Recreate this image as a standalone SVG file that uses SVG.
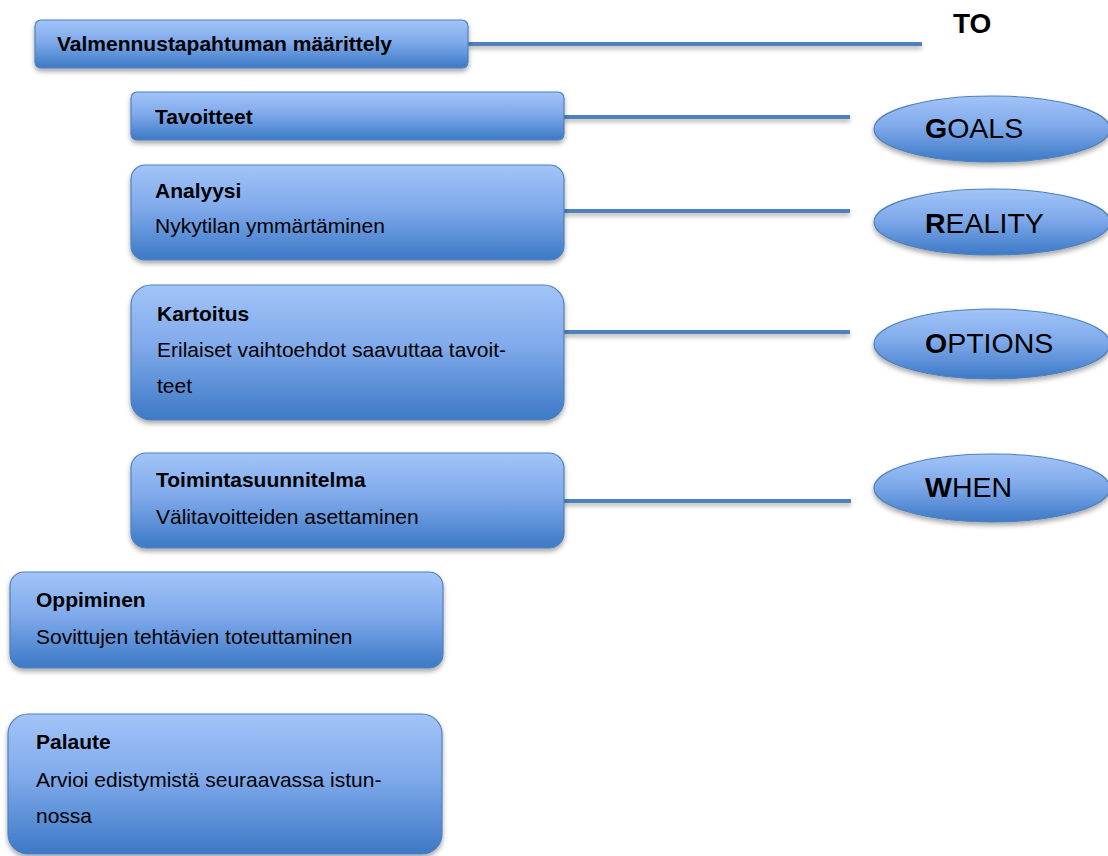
<svg xmlns="http://www.w3.org/2000/svg" width="1108" height="856" viewBox="0 0 1108 856">
  <defs>
    <linearGradient id="fillBlue" x1="0" y1="0" x2="0" y2="1">
      <stop offset="0" stop-color="#a2c4f8"/>
      <stop offset="0.45" stop-color="#80aaeb"/>
      <stop offset="1" stop-color="#3c79c6"/>
    </linearGradient>
    <filter id="shadow" x="-10%" y="-30%" width="120%" height="170%">
      <feDropShadow dx="0" dy="3" stdDeviation="2.5" flood-color="#000" flood-opacity="0.35"/>
    </filter>
    <!-- user-space region so the flat horizontal connectors keep a filter area -->
    <filter id="lineShadow" filterUnits="userSpaceOnUse" x="0" y="0" width="1108" height="856">
      <feDropShadow dx="0" dy="3" stdDeviation="2" flood-color="#000" flood-opacity="0.3"/>
    </filter>
  </defs>
  <style>
    .box { fill: url(#fillBlue); stroke: #4f81bd; stroke-width: 1.2; filter: url(#shadow); }
    .link { stroke: #4f81bd; stroke-width: 4; fill: none; filter: url(#lineShadow); }
    text { font-family: "Liberation Sans", Arial, sans-serif; fill: #000; }
    .title { font-weight: bold; font-size: 21px; }
    .body { font-size: 21px; }
    .big { font-size: 28.5px; }
    .big tspan.initial { font-weight: bold; }
  </style>
  <rect width="1108" height="856" fill="#ffffff"/>

  <!-- connectors -->
  <g id="connectors">
    <line class="link" x1="468" y1="44" x2="922" y2="44"/>
    <line class="link" x1="564" y1="117" x2="850" y2="117"/>
    <line class="link" x1="564" y1="211" x2="850" y2="211"/>
    <line class="link" x1="564" y1="332" x2="850" y2="332"/>
    <line class="link" x1="564" y1="501" x2="851" y2="501"/>
  </g>

  <g id="node-maarittely">
    <rect class="box" x="35" y="20" width="433" height="48" rx="6"/>
    <text class="title" x="57" y="51">Valmennustapahtuman määrittely</text>
  </g>

  <g id="node-to">
    <text x="953" y="33" font-weight="bold" font-size="28px">TO</text>
  </g>

  <g id="node-tavoitteet">
    <rect class="box" x="131" y="92" width="433" height="48" rx="6"/>
    <text class="title" x="155" y="124">Tavoitteet</text>
  </g>

  <g id="node-analyysi">
    <rect class="box" x="131" y="165" width="433" height="95" rx="14"/>
    <text class="title" x="155" y="198">Analyysi</text>
    <text class="body" x="155" y="233">Nykytilan ymmärtäminen</text>
  </g>

  <g id="node-kartoitus">
    <rect class="box" x="131" y="285" width="433" height="135" rx="20"/>
    <text class="title" x="157" y="321">Kartoitus</text>
    <text class="body" x="157" y="357">Erilaiset vaihtoehdot saavuttaa tavoit-</text>
    <text class="body" x="157" y="393">teet</text>
  </g>

  <g id="node-toimintasuunnitelma">
    <rect class="box" x="131" y="453" width="433" height="95" rx="15"/>
    <text class="title" x="156" y="487">Toimintasuunnitelma</text>
    <text class="body" x="156" y="524">Välitavoitteiden asettaminen</text>
  </g>

  <g id="node-oppiminen">
    <rect class="box" x="10" y="572" width="433" height="96" rx="14"/>
    <text class="title" x="36" y="607">Oppiminen</text>
    <text class="body" x="36" y="644">Sovittujen tehtävien toteuttaminen</text>
  </g>

  <g id="node-palaute">
    <rect class="box" x="8" y="714" width="434" height="140" rx="20"/>
    <text class="title" x="36" y="749">Palaute</text>
    <text class="body" x="36" y="787">Arvioi edistymistä seuraavassa istun-</text>
    <text class="body" x="36" y="823">nossa</text>
  </g>

  <g id="node-goals">
    <ellipse class="box" cx="992" cy="129" rx="118" ry="33"/>
    <text class="big" x="925" y="138"><tspan class="initial">G</tspan>OALS</text>
  </g>

  <g id="node-reality">
    <ellipse class="box" cx="992" cy="222" rx="118" ry="33"/>
    <text class="big" x="925" y="233"><tspan class="initial">R</tspan>EALITY</text>
  </g>

  <g id="node-options">
    <ellipse class="box" cx="992" cy="344" rx="118" ry="35"/>
    <text class="big" x="925" y="353"><tspan class="initial">O</tspan>PTIONS</text>
  </g>

  <g id="node-when">
    <ellipse class="box" cx="992" cy="488" rx="118" ry="34"/>
    <text class="big" x="925" y="497"><tspan class="initial">W</tspan>HEN</text>
  </g>
</svg>
